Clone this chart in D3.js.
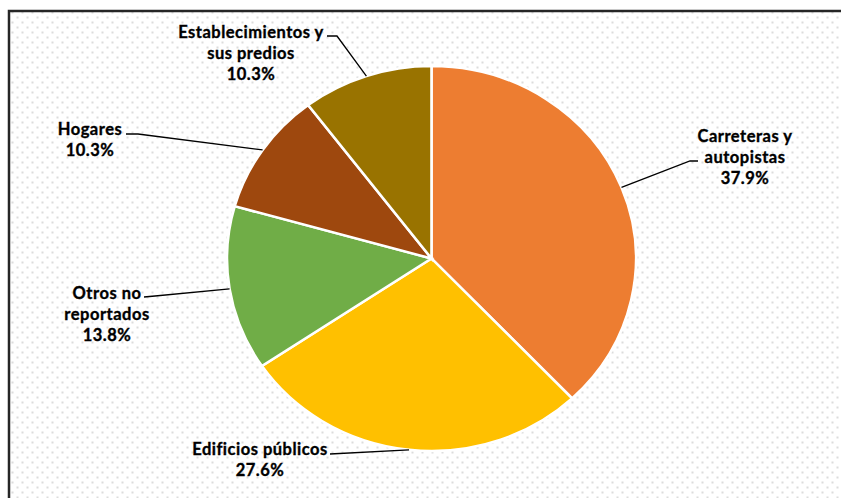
<!DOCTYPE html>
<html>
<head>
<meta charset="utf-8">
<script src="https://cdn.jsdelivr.net/npm/d3@7"></script>
<style>
  html, body { margin: 0; padding: 0; background: #fff; }
  svg { display: block; }
</style>
</head>
<body>
<svg id="chart" width="841" height="498"></svg>
<script>
const categories = ["Carreteras y autopistas", "Edificios públicos", "Otros no reportados", "Hogares", "Establecimientos y sus predios"];
const values = [37.9, 27.6, 13.8, 10.3, 10.3];
const labelLines = [
  ["Carreteras y", "autopistas", "37.9%"],
  ["Edificios públicos", "27.6%"],
  ["Otros no", "reportados", "13.8%"],
  ["Hogares", "10.3%"],
  ["Establecimientos y", "sus predios", "10.3%"]
];
const colors = ["#ED7D31", "#FFC000", "#70AD47", "#9E480E", "#997300"];

const svg = d3.select("#chart");
const W = 841, H = 498;

// background dotted pattern
const defs = svg.append("defs");
const pat = defs.append("pattern").attr("id", "dots")
  .attr("patternUnits", "userSpaceOnUse").attr("width", 10).attr("height", 10)
  .attr("x", 0).attr("y", 0);
pat.append("rect").attr("x", 1.5).attr("y", 1.5).attr("width", 2).attr("height", 2).attr("fill", "#dcdcdc");
pat.append("rect").attr("x", 6.5).attr("y", 6.5).attr("width", 2).attr("height", 2).attr("fill", "#dcdcdc");

svg.append("rect").attr("x", 0).attr("y", 0).attr("width", W).attr("height", H).attr("fill", "#fff");
svg.append("rect").attr("x", 9).attr("y", 11).attr("width", W).attr("height", H)
  .attr("fill", "url(#dots)").attr("stroke", "#262626").attr("stroke-width", 2.5);

// pie
const cx = 431.5, cy = 258.5, rx = 204.5, ry = 192.5;
const pie = d3.pie().sort(null).value(d => d)(values);
const arc = d3.arc().innerRadius(0).outerRadius(rx);
const g = svg.append("g").attr("transform", `translate(${cx},${cy}) scale(1,${ry / rx})`);
g.selectAll("path").data(pie).enter().append("path")
  .attr("d", arc)
  .attr("fill", (d, i) => colors[i])
  .attr("stroke", "#fff").attr("stroke-width", 2.6);

// labels: center x and first baseline y
const labelPos = [
  { x: 745, y: 142 },
  { x: 260, y: 455 },
  { x: 107, y: 299 },
  { x: 90, y: 135 },
  { x: 251, y: 38 }
];
const lineH = 21;

// leader lines: label-side points, then to mid-angle point on pie edge
const leaderStart = [
  [[698, 161], [690, 161]],
  [[330, 454]],
  [[144, 297], [155, 296]],
  [[126, 134], [138, 134]],
  [[327, 36], [337, 36]]
];
pie.forEach((d, i) => {
  const a = (d.startAngle + d.endAngle) / 2;
  const px = cx + rx * Math.sin(a);
  const py = cy - ry * Math.cos(a);
  const pts = leaderStart[i].concat([[px, py]]);
  svg.append("path").attr("d", d3.line()(pts))
    .attr("fill", "none").attr("stroke", "#000").attr("stroke-width", 1.3);
});

labelLines.forEach((lines, i) => {
  const t = svg.append("text")
    .attr("x", labelPos[i].x).attr("y", labelPos[i].y)
    .attr("text-anchor", "middle")
    .attr("font-family", "Lato, 'Open Sans', sans-serif")
    .attr("font-weight", "bold").attr("font-size", 16.5)
    .attr("letter-spacing", 0.5)
    .attr("fill", "#000").attr("stroke", "#000").attr("stroke-width", 0.35);
  lines.forEach((l, j) => {
    t.append("tspan").attr("x", labelPos[i].x).attr("dy", j === 0 ? 0 : lineH).text(l);
  });
});
</script>
</body>
</html>
